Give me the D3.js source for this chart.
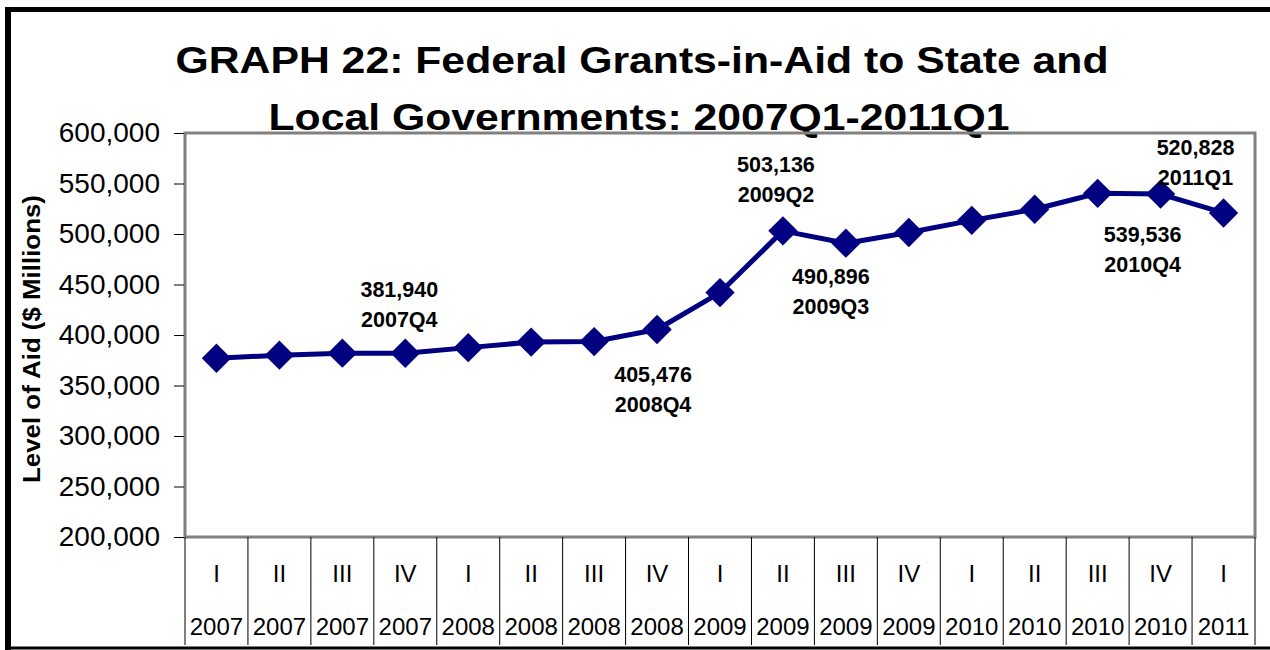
<!DOCTYPE html>
<html>
<head>
<meta charset="utf-8">
<script src="https://cdn.jsdelivr.net/npm/d3@7"></script>
<style>
  body { margin: 0; background: #fff; }
  svg { display: block; font-family: "Liberation Sans", Arial, sans-serif; }
</style>
</head>
<body>
<svg id="chart" width="1270" height="650"></svg>
<script>
var width = 1270,
    height = 650;

// quarter labels (first row under the axis) and years (second row)
var quarters = ["I", "II", "III", "IV", "I", "II", "III", "IV", "I", "II", "III", "IV", "I", "II", "III", "IV", "I"];
var years = ["2007", "2007", "2007", "2007", "2008", "2008", "2008", "2008", "2009", "2009", "2009", "2009", "2010", "2010", "2010", "2010", "2011"];
// grants-in-aid, $ millions
var values = [377000, 380000, 382000, 381940, 387500, 393000, 393500, 405476, 442000, 503136, 490896, 501500, 513500, 524500, 540300, 539536, 520828];
var yTicks = [200000, 250000, 300000, 350000, 400000, 450000, 500000, 550000, 600000];
// which points carry a value label
var labelled = [3, 7, 9, 10, 15, 16];
var labelText = ["2007Q4", "2008Q4", "2009Q2", "2009Q3", "2010Q4", "2011Q1"];

const plot = { left: 185, right: 1255, top: 133, bottom: 537 };

var svg = d3.select("#chart");

svg.append("rect").attr("width", width).attr("height", height).attr("fill", "#fff");

// outer frame
svg.append("line").attr("x1", 8).attr("x2", 8).attr("y1", 7).attr("y2", 650)
    .attr("stroke", "#000").attr("stroke-width", 6);
svg.append("line").attr("x1", 5).attr("x2", 1270).attr("y1", 9.5).attr("y2", 9.5)
    .attr("stroke", "#000").attr("stroke-width", 5);
svg.append("line").attr("x1", 5).attr("x2", 1270).attr("y1", 648).attr("y2", 648)
    .attr("stroke", "#000").attr("stroke-width", 3);

var x = d3.scaleBand()
    .domain(d3.range(values.length))
    .range([plot.left, plot.right])
    .paddingInner(0)
    .paddingOuter(0);

var y = d3.scaleLinear()
    .domain([200000, 600000])
    .range([plot.bottom, plot.top]);

// title (the original glyphs are stretched sideways)
const titleStretch = 1.155;
var title = svg.append("text")
    .attr("transform", "scale(" + titleStretch + ",1)")
    .attr("text-anchor", "middle")
    .attr("font-weight", "bold")
    .attr("font-size", 37)
    .attr("fill", "#000");
title.append("tspan").attr("x", 642 / titleStretch).attr("y", 73)
    .text("GRAPH 22: Federal Grants-in-Aid to State and");
title.append("tspan").attr("x", 639 / titleStretch).attr("y", 130)
    .text("Local Governments: 2007Q1-2011Q1");

// plot area
svg.append("rect")
    .attr("x", plot.left)
    .attr("y", plot.top)
    .attr("width", plot.right - plot.left)
    .attr("height", plot.bottom - plot.top)
    .attr("fill", "none")
    .attr("stroke", "#808080")
    .attr("stroke-width", 3);

// y axis
var yAxis = d3.axisLeft(y)
    .tickValues(yTicks)
    .tickSize(10)
    .tickPadding(14)
    .tickFormat(d3.format(","));

var yg = svg.append("g")
    .attr("transform", "translate(" + (plot.left - 1) + ",0)")
    .call(yAxis);
yg.select(".domain").remove();
yg.selectAll("text")
    .attr("font-size", 28)
    .attr("font-family", "Liberation Sans, Arial, sans-serif")
    .attr("fill", "#000");
yg.selectAll("line").attr("stroke", "#000");

svg.append("text")
    .attr("transform", "translate(40," + 339 + ") rotate(-90)")
    .attr("text-anchor", "middle")
    .attr("font-weight", "bold")
    .attr("font-size", 24)
    .attr("textLength", 288)
    .attr("lengthAdjust", "spacingAndGlyphs")
    .text("Level of Aid ($ Millions)");

// category separators
var xg = svg.append("g");
xg.selectAll("line")
    .data(d3.range(values.length + 1))
    .join("line")
    .attr("x1", function (i) { return i < values.length ? x(i) : plot.right; })
    .attr("x2", function (i) { return i < values.length ? x(i) : plot.right; })
    .attr("y1", plot.bottom)
    .attr("y2", 645)
    .attr("stroke", "#000")
    .attr("stroke-width", 1);

xg.selectAll("text.q")
    .data(quarters)
    .join("text")
    .attr("class", "q")
    .attr("x", function (d, i) { return x(i) + x.bandwidth() / 2; })
    .attr("y", 582)
    .attr("text-anchor", "middle")
    .attr("font-size", 24)
    .text(function (d) { return d; });

xg.selectAll("text.yr")
    .data(years)
    .join("text")
    .attr("class", "yr")
    .attr("x", function (d, i) { return x(i) + x.bandwidth() / 2; })
    .attr("y", 635)
    .attr("text-anchor", "middle")
    .attr("font-size", 24)
    .text(function (d) { return d; });

// series
var line = d3.line()
    .x(function (d, i) { return x(i) + x.bandwidth() / 2; })
    .y(function (d) { return y(d); });

svg.append("path")
    .datum(values)
    .attr("d", line)
    .attr("fill", "none")
    .attr("stroke", "#000080")
    .attr("stroke-width", 5)
    .attr("stroke-linejoin", "round");

var diamond = d3.symbol().type(d3.symbolSquare).size(430);
svg.append("g").selectAll("path")
    .data(values)
    .join("path")
    .attr("d", diamond)
    .attr("transform", function (d, i) {
        return "translate(" + (x(i) + x.bandwidth() / 2) + "," + y(d) + ") rotate(45)";
    })
    .attr("fill", "#000080");

// value labels: offsets from the marker [dx, dy of first line]
var labelOffsets = [[-6, -56], [-4, 53], [-7, -59], [-15, 41], [-18, 48], [-28, -58]];
var lg = svg.append("g")
    .attr("font-weight", "bold")
    .attr("font-size", 21.5)
    .attr("text-anchor", "middle");
labelled.forEach(function (idx, k) {
    var cx = x(idx) + x.bandwidth() / 2 + labelOffsets[k][0];
    var cy = y(values[idx]) + labelOffsets[k][1];
    var t = lg.append("text");
    t.append("tspan").attr("x", cx).attr("y", cy).text(d3.format(",")(values[idx]));
    t.append("tspan").attr("x", cx).attr("y", cy + 30).text(labelText[k]);
});
</script>
</body>
</html>
